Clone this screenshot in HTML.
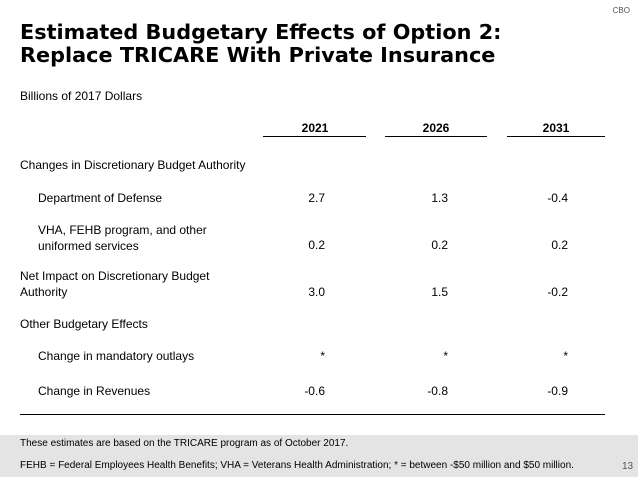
<!DOCTYPE html>
<html><head><meta charset="utf-8"><style>
body{margin:0;width:638px;height:479px;background:#fff;position:relative;overflow:hidden;font-family:"Liberation Sans",sans-serif;color:#000}
.a{position:absolute;white-space:nowrap}
.t{font-family:"DejaVu Sans",sans-serif;font-weight:bold;font-size:20.8px;left:20px;line-height:23px}
.r{font-size:12px;line-height:16px}
.v{font-size:12px;text-align:right;width:60px}
.h{font-size:12px;font-weight:bold;text-align:center}
.ln{position:absolute;height:1px;background:#000}
.f{font-size:10px}
</style></head><body>
<div class="a" style="right:8px;top:6px;font-size:8px;color:#555">CBO</div>
<div class="a t" style="top:21px">Estimated Budgetary Effects of Option 2:<br>Replace TRICARE With Private Insurance</div>
<div class="a r" style="left:20px;top:88px">Billions of 2017 Dollars</div>
<div id="tbl"></div>
<div class="ln" style="left:20px;width:585px;top:414px"></div>
<div class="a" style="left:0;top:435px;width:638px;height:42px;background:#e4e4e4"></div>
<div class="a f" style="left:20px;top:438px">These estimates are based on the TRICARE program as of October 2017.</div>
<div class="a f" style="left:20px;top:460px">FEHB = Federal Employees Health Benefits; VHA = Veterans Health Administration; * = between -$50 million and $50 million.</div>
<div class="a f" style="left:622px;top:461px;color:#555">13</div>
<script>
const years=["2021","2026","2031"];
const labels=["Changes in Discretionary Budget Authority","Department of Defense","VHA, FEHB program, and other<br>uniformed services","Net Impact on Discretionary Budget<br>Authority","Other Budgetary Effects","Change in mandatory outlays","Change in Revenues"];
const indent=[0,1,1,0,0,1,1];
const col2021=[null,"2.7","0.2","3.0",null,"*","-0.6"];
const col2026=[null,"1.3","0.2","1.5",null,"*","-0.8"];
const col2031=[null,"-0.4","0.2","-0.2",null,"*","-0.9"];
const cols=[col2021,col2026,col2031];
const rowTop=[157,190,222,268,316,348,383];
const valTop=[158,191,238,285,317,349,384];
const colCenter=[315,436,556], colRight=[325,448,568], lineL=[263,385,507], lineW=[103,102,98];
const T=document.getElementById('tbl');
years.forEach((y,i)=>{
 const d=document.createElement('div');d.className='a h';
 
 
 d.style.left=(colCenter[i]-30)+'px';d.style.width='60px';d.style.top='121px';d.textContent=y;T.appendChild(d);
 const l=document.createElement('div');l.className='ln';
 
 
 l.style.left=lineL[i]+'px';l.style.width=lineW[i]+'px';l.style.top='136px';T.appendChild(l);
});
labels.forEach((t,r)=>{
 const d=document.createElement('div');d.className='a r';
 
 
 d.style.left=(indent[r]?38:20)+'px';d.style.top=rowTop[r]+'px';d.innerHTML=t;T.appendChild(d);
 cols.forEach((c,i)=>{ if(c[r]==null)return;
  const v=document.createElement('div');v.className='a v';
  
  
  v.style.left=(colRight[i]-60)+'px';v.style.top=valTop[r]+'px';v.textContent=c[r];T.appendChild(v);
 });
});
</script>
</body></html>
